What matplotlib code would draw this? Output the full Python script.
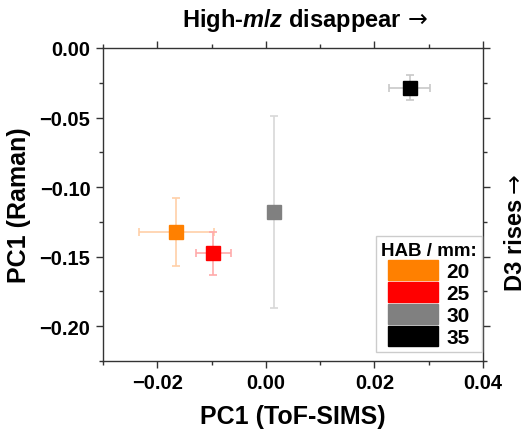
import matplotlib.pyplot as plt
from matplotlib.patches import Patch
from matplotlib.ticker import MultipleLocator

plt.rcParams['font.family'] = ['Liberation Sans', 'DejaVu Sans']
plt.rcParams['font.weight'] = 'bold'
plt.rcParams['mathtext.fontset'] = 'custom'
plt.rcParams['mathtext.rm'] = 'Liberation Sans:bold'
plt.rcParams['mathtext.it'] = 'Liberation Sans:bold:italic'
plt.rcParams['mathtext.bf'] = 'Liberation Sans:bold'

# HAB en mm, PC1 de ToF-SIMS (x) y Raman (y) con sus desviaciones
hab = ['20', '25', '30', '35']
pc1_tof = [-0.0165, -0.0097, 0.0015, 0.0265]
pc1_tof_err = [0.0069, 0.0032, 0.0, 0.0038]
pc1_raman = [-0.132, -0.1475, -0.118, -0.0285]
pc1_raman_err = [0.0245, 0.0155, 0.069, 0.009]
colores = ['#ff8000', '#ff0000', '#808080', '#000000']
colores_err = ['#ffd0a8', '#ffaaaa', '#d8d8d8', '#c8c8c8']

fig = plt.figure(figsize=(5.32, 4.31), dpi=100)
ax = fig.add_axes([103 / 532, 1 - 362 / 431, 380 / 532, 313 / 431])

for i in range(len(hab)):
    ax.errorbar(pc1_tof[i], pc1_raman[i], xerr=pc1_tof_err[i], yerr=pc1_raman_err[i],
                fmt='none', ecolor=colores_err[i], elinewidth=1.2, capsize=3, capthick=1.2, zorder=2)
    ax.plot(pc1_tof[i], pc1_raman[i], 's', color=colores[i], markersize=10,
            markeredgecolor=colores[i], zorder=3)

ax.set_xlim(-0.03, 0.04)
ax.set_ylim(-0.225, 0.0)
ax.xaxis.set_major_locator(MultipleLocator(0.02))
ax.xaxis.set_minor_locator(MultipleLocator(0.01))
ax.yaxis.set_major_locator(MultipleLocator(0.05))
ax.yaxis.set_minor_locator(MultipleLocator(0.025))
fmt = plt.FuncFormatter(lambda v, p: f'{v:.2f}'.replace('-', '\u2212'))
ax.xaxis.set_major_formatter(fmt)
ax.yaxis.set_major_formatter(fmt)

ax.tick_params(which='both', direction='out', top=True, right=True, labelsize=14.5, colors='#333333',
               labelcolor='black', width=1, pad=4)
ax.tick_params(which='major', length=5)
ax.tick_params(which='minor', length=3)
for s in ax.spines.values():
    s.set_color('#333333')
    s.set_linewidth(1)

ax.set_xlabel('PC1 (ToF-SIMS)', fontsize=18, fontweight='bold', labelpad=8)
ax.set_ylabel('PC1 (Raman)', fontsize=18, fontweight='bold', labelpad=6)

# Textos laterales: la flecha va en DejaVu Sans (flecha larga y fina)
renderer = fig.canvas.get_renderer()
gap = 6
t_top = fig.text(292 / 532, 1 - 20 / 431, r'High-$\mathit{m/z}$ disappear', ha='center', va='center',
                 fontsize=17, fontweight='bold')
bb = t_top.get_window_extent(renderer)
fig.text((bb.x1 + gap) / fig.bbox.width, 1 - 20 / 431, '\u2192', ha='left', va='center',
         fontsize=17, fontweight='normal', family='DejaVu Sans')

t_der = fig.text(1 - 17 / 532, 1 - 245 / 431, 'D3 rises', rotation=90, ha='center', va='center',
                 fontsize=17, fontweight='bold')
bb = t_der.get_window_extent(renderer)
fig.text(1 - 17 / 532, (bb.y1 + gap) / fig.bbox.height, '\u2192', rotation=90, ha='center', va='bottom',
         fontsize=17, fontweight='normal', family='DejaVu Sans')

handles = [Patch(facecolor=c, edgecolor=c) for c in colores]
leg = ax.legend(handles, hab, title='HAB / mm:', loc='lower right', fontsize=15,
                title_fontproperties={'weight': 'bold', 'size': 13.5}, handlelength=2.4, handleheight=1.1,
                fancybox=False, framealpha=1, edgecolor='#cccccc', borderpad=0.25,
                labelspacing=0.05, handletextpad=0.4, borderaxespad=0, bbox_to_anchor=(0.997, 0.028))
leg.get_frame().set_linewidth(1)

fig.savefig('out.png', dpi=100)
